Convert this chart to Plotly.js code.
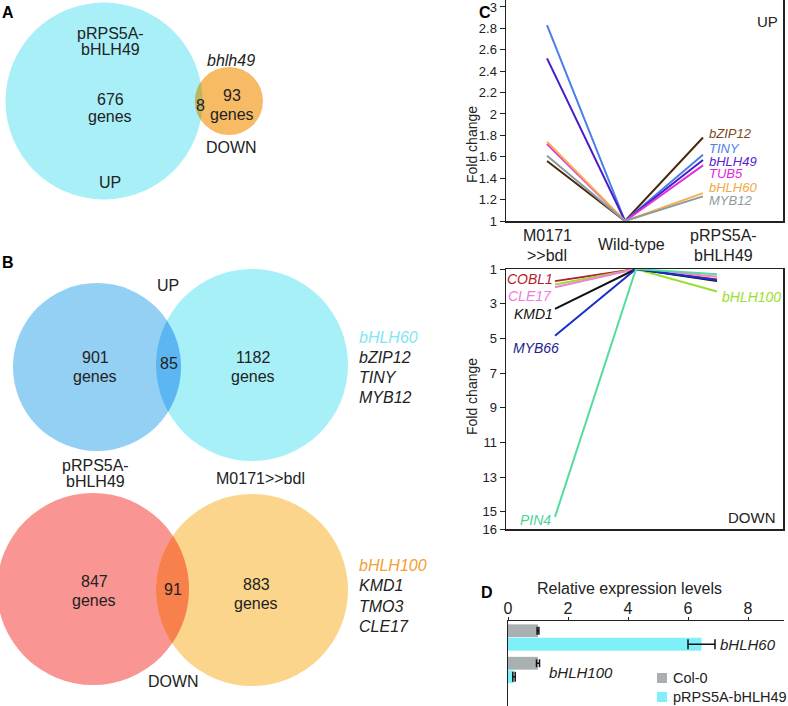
<!DOCTYPE html>
<html>
<head>
<meta charset="utf-8">
<script src="https://cdn.plot.ly/plotly-3.0.1.min.js"></script>
<style>
  html, body { margin: 0; padding: 0; background: #fff; }
  #fig { width: 788px; height: 706px; }
</style>
</head>
<body>
<div id="fig"></div>
<script>
// ---- data ----
const vennACounts = [676, 8, 93];          // pRPS5A-bHLH49 UP only, shared, bhlh49 DOWN only
const vennBUpCounts = [901, 85, 1182];     // pRPS5A-bHLH49, shared, M0171>>bdl
const vennBDownCounts = [847, 91, 883];
const vennBUpGenes = ['bHLH60', 'bZIP12', 'TINY', 'MYB12'];
const vennBDownGenes = ['bHLH100', 'KMD1', 'TMO3', 'CLE17'];

const conditions = ['M0171>>bdl', 'Wild-type', 'pRPS5A-bHLH49'];

const upGenes = ['bZIP12', 'TINY', 'bHLH49', 'TUB5', 'bHLH60', 'MYB12'];
const upM0171 = [1.56, 2.83, 2.52, 1.72, 1.74, 1.61];
const upWildType = [1, 1, 1, 1, 1, 1];
const upPRPS5A = [1.78, 1.62, 1.57, 1.52, 1.26, 1.23];
const upColors = ['#4a2a0c', '#4a7fe8', '#4a1cc8', '#e030e0', '#f4b050', '#8a9aa0'];
const upLabelColors = ['#7b4a1c', '#4f7fe6', '#5b22cc', '#e028d8', '#f2a845', '#8c9ba0'];
const upTicks = [1, 1.2, 1.4, 1.6, 1.8, 2, 2.2, 2.4, 2.6, 2.8, 3];

const downGenes = ['COBL1', 'bHLH100', 'CLE17', 'KMD1', 'MYB66', 'PIN4'];
const downM0171 = [1.7, 1.9, 2.05, 3.3, 4.85, 15.3];
const downWildType = [1, 1, 1, 1, 1, 1];
const downPRPS5A = [1.6, 2.3, 1.45, 1.7, 1.65, 1.3];
const downColors = ['#b51d2a', '#98e030', '#f080d8', '#111111', '#1530c8', '#55dc9c'];
const downLabelColors = ['#b51d2a', '#98e030', '#f07ae0', '#111111', '#1c1c8c', '#4cd496'];
const downTicks = [1, 3, 5, 7, 9, 11, 13, 15, 16];

const qpcrGenes = ['bHLH60', 'bHLH100'];
const col0Levels = [1.0, 1.0];
const col0Err = [0.03, 0.05];
const pRPSLevels = [6.45, 0.2];
const pRPSErr = [0.45, 0.04];
const qpcrTicks = [0, 2, 4, 6, 8];

// ---- helpers ----
const FONT = 'Liberation Sans, Arial, sans-serif';
const W = 788, H = 706;

// text placed in pixel units on the background axis
function label(x, y, text, opts) {
    opts = opts || {};
    return {
        xref: 'x', yref: 'y', x: x, y: y, text: text, showarrow: false,
        xanchor: opts.xanchor || 'center', yanchor: 'middle',
        textangle: opts.angle || 0,
        font: { family: FONT, size: opts.size || 16, color: opts.color || '#222' }
    };
}

function circle(c, color) {
    return {
        type: 'circle', xref: 'x', yref: 'y', layer: 'below',
        x0: c.x - c.r, x1: c.x + c.r, y0: c.y - c.r, y1: c.y + c.r,
        fillcolor: color, line: { width: 0 }
    };
}

// overlap region of two circles, as a polygon along both arcs
function lens(c1, c2, color) {
    const dx = c2.x - c1.x, dy = c2.y - c1.y, d = Math.hypot(dx, dy);
    const t12 = Math.atan2(dy, dx), t21 = t12 + Math.PI;
    const a1 = Math.acos((d * d + c1.r * c1.r - c2.r * c2.r) / (2 * d * c1.r));
    const a2 = Math.acos((d * d + c2.r * c2.r - c1.r * c1.r) / (2 * d * c2.r));
    const pts = [];
    const n = 48;
    for (let i = 0; i <= n; i++) {
        const a = t12 - a1 + 2 * a1 * i / n;
        pts.push([c1.x + c1.r * Math.cos(a), c1.y + c1.r * Math.sin(a)]);
    }
    for (let i = 0; i <= n; i++) {
        const a = t21 - a2 + 2 * a2 * i / n;
        pts.push([c2.x + c2.r * Math.cos(a), c2.y + c2.r * Math.sin(a)]);
    }
    return {
        type: 'path', xref: 'x', yref: 'y', layer: 'below',
        path: 'M' + pts.map(p => p[0].toFixed(2) + ',' + p[1].toFixed(2)).join('L') + 'Z',
        fillcolor: color, line: { width: 0 }
    };
}

// ---- venn geometry (pixels) ----
const aUp = { x: 104, y: 101, r: 98.5 }, aDown = { x: 229, y: 101, r: 34 };
const bUpL = { x: 97, y: 367, r: 84 }, bUpR = { x: 252, y: 365, r: 96 };
const bDnL = { x: 93, y: 589, r: 96 }, bDnR = { x: 252, y: 590, r: 96 };

const shapes = [
    circle(aUp, '#a9eff8'), circle(aDown, '#f7bb66'), lens(aUp, aDown, '#bdb55f'),
    circle(bUpL, '#93d0f3'), circle(bUpR, '#a8f0f8'), lens(bUpL, bUpR, '#5cb6f2'),
    circle(bDnL, '#f99593'), circle(bDnR, '#fbd58c'), lens(bDnL, bDnR, '#f8804c'),
    // legend swatches for panel D
    { type: 'rect', xref: 'x', yref: 'y', x0: 657, x1: 667, y0: 673, y1: 683, fillcolor: '#a8b0b2', line: { width: 0 } },
    { type: 'rect', xref: 'x', yref: 'y', x0: 657, x1: 667, y0: 692, y1: 702, fillcolor: '#80f0f8', line: { width: 0 } }
];

// ---- annotations ----
const ann = [];
// panel letters
ann.push(label(8, 12, '<b>A</b>', { size: 16, color: '#000' }));
ann.push(label(8, 262, '<b>B</b>', { size: 16, color: '#000' }));
ann.push(label(485, 12, '<b>C</b>', { size: 16, color: '#000' }));
ann.push(label(487, 592, '<b>D</b>', { size: 16, color: '#000' }));

// A
ann.push(label(110, 33, 'pRPS5A-'));
ann.push(label(110, 49, 'bHLH49'));
ann.push(label(110, 99, String(vennACounts[0])));
ann.push(label(110, 116, 'genes'));
ann.push(label(110, 182, 'UP'));
ann.push(label(200, 105, String(vennACounts[1])));
ann.push(label(232, 95, String(vennACounts[2])));
ann.push(label(232, 114, 'genes'));
ann.push(label(231, 60, '<i>bhlh49</i>'));
ann.push(label(231, 147, 'DOWN'));

// B up
ann.push(label(168, 285, 'UP'));
ann.push(label(95, 357, String(vennBUpCounts[0])));
ann.push(label(95, 376, 'genes'));
ann.push(label(169, 363, String(vennBUpCounts[1])));
ann.push(label(253, 357, String(vennBUpCounts[2])));
ann.push(label(253, 376, 'genes'));
vennBUpGenes.forEach((g, i) => {
    ann.push(label(357, 337.5 + 20 * i, '<i>' + g + '</i>', { xanchor: 'left', color: i === 0 ? '#7fe8f2' : '#222' }));
});
ann.push(label(95, 465, 'pRPS5A-'));
ann.push(label(95, 481, 'bHLH49'));
ann.push(label(260, 478, 'M0171>>bdl'));

// B down
ann.push(label(94, 581, String(vennBDownCounts[0])));
ann.push(label(94, 600, 'genes'));
ann.push(label(173, 589, String(vennBDownCounts[1])));
ann.push(label(256, 584, String(vennBDownCounts[2])));
ann.push(label(256, 603, 'genes'));
ann.push(label(173, 681, 'DOWN'));
vennBDownGenes.forEach((g, i) => {
    ann.push(label(357, 565 + 20.5 * i, '<i>' + g + '</i>', { xanchor: 'left', color: i === 0 ? '#f3a02e' : '#222' }));
});

// C
ann.push(label(472, 145, 'Fold change', { angle: -90, size: 14 }));
ann.push(label(472, 397, 'Fold change', { angle: -90, size: 14 }));
ann.push(label(767, 21, 'UP', { size: 15 }));
ann.push(label(752, 517, 'DOWN', { size: 15 }));
ann.push(label(547, 235, 'M0171'));
ann.push(label(547, 255, '>>bdl'));
ann.push(label(631, 244, 'Wild-type'));
ann.push(label(723, 235, 'pRPS5A-'));
ann.push(label(723, 255, 'bHLH49'));
const upLabelY = [133.5, 148, 161.5, 173.5, 187, 200.5];
upGenes.forEach((g, i) => {
    ann.push(label(707, upLabelY[i], '<i>' + g + '</i>', { xanchor: 'left', size: 13, color: upLabelColors[i] }));
});
const downLabelY = [279, 296.5, 296, 314, 347.5, 520];
const downLabelX = [555, 720, 554, 555, 561, 553];
downGenes.forEach((g, i) => {
    ann.push(label(downLabelX[i], downLabelY[i], '<i>' + g + '</i>',
        { xanchor: g === 'bHLH100' ? 'left' : 'right', size: 14, color: downLabelColors[i] }));
});

// D
ann.push(label(629, 588, 'Relative expression levels'));
ann.push(label(718, 644, '<i>' + qpcrGenes[0] + '</i>', { xanchor: 'left', size: 15 }));
ann.push(label(547, 672.5, '<i>' + qpcrGenes[1] + '</i>', { xanchor: 'left', size: 15 }));
ann.push(label(671, 678, 'Col-0', { xanchor: 'left', size: 14.5 }));
ann.push(label(671, 697, 'pRPS5A-bHLH49', { xanchor: 'left', size: 14.5 }));

// ---- traces ----
const traces = [];
upGenes.forEach((g, i) => {
    traces.push({
        type: 'scatter', mode: 'lines', name: g, xaxis: 'x2', yaxis: 'y2',
        x: conditions, y: [upM0171[i], upWildType[i], upPRPS5A[i]],
        line: { color: upColors[i], width: 2 }, showlegend: false, hoverinfo: 'skip'
    });
});
downGenes.forEach((g, i) => {
    traces.push({
        type: 'scatter', mode: 'lines', name: g, xaxis: 'x3', yaxis: 'y3',
        x: conditions, y: [downM0171[i], downWildType[i], downPRPS5A[i]],
        line: { color: downColors[i], width: 2 }, showlegend: false, hoverinfo: 'skip'
    });
});
traces.push({
    type: 'bar', orientation: 'h', name: 'Col-0', xaxis: 'x4', yaxis: 'y4',
    y: qpcrGenes, x: col0Levels, marker: { color: '#a8b0b2' },
    error_x: { type: 'data', array: col0Err, color: '#111', thickness: 1.5, width: 4 },
    showlegend: false
});
traces.push({
    type: 'bar', orientation: 'h', name: 'pRPS5A-bHLH49', xaxis: 'x4', yaxis: 'y4',
    y: qpcrGenes, x: pRPSLevels, marker: { color: '#80f0f8' },
    error_x: { type: 'data', array: pRPSErr, color: '#111', thickness: 1.5, width: 5 },
    showlegend: false
});

// ---- layout ----
const frame = { showline: true, mirror: true, linecolor: '#222', linewidth: 1.5, showgrid: false, zeroline: false };
const xd = [506 / W, 783 / W];

const layout = {
    width: W, height: H,
    margin: { l: 0, r: 0, t: 0, b: 0 },
    paper_bgcolor: '#fff', plot_bgcolor: 'rgba(0,0,0,0)',
    font: { family: FONT, color: '#222' },
    showlegend: false,
    barmode: 'group', bargap: 0.17, bargroupgap: 0.05,
    xaxis: { domain: [0, 1], range: [0, W], visible: false, fixedrange: true },
    yaxis: { domain: [0, 1], range: [H, 0], visible: false, fixedrange: true },
    xaxis2: Object.assign({}, frame, {
        domain: xd, anchor: 'y2', type: 'category', categoryarray: conditions,
        range: [-0.526, 3.026], showticklabels: false, ticks: ''
    }),
    yaxis2: Object.assign({}, frame, {
        domain: [1 - 221 / H, 1], anchor: 'x2', range: [1, 3.065],
        tickvals: upTicks, ticks: 'outside', ticklen: 5, tickcolor: '#222',
        ticklabeloverflow: 'allow',
        tickfont: { size: 13, color: '#222' }
    }),
    xaxis3: Object.assign({}, frame, {
        domain: xd, anchor: 'y3', type: 'category', categoryarray: conditions,
        range: [-0.605, 2.815], showticklabels: false, ticks: ''
    }),
    yaxis3: Object.assign({}, frame, {
        domain: [1 - 529 / H, 1 - 269 / H], anchor: 'x3', range: [16, 1],
        tickvals: downTicks, ticks: 'outside', ticklen: 5, tickcolor: '#222',
        ticklabeloverflow: 'allow',
        tickfont: { size: 13, color: '#222' }
    }),
    xaxis4: {
        domain: [508 / W, 784 / W], anchor: 'y4', side: 'top', range: [0, 9.2],
        tickvals: qpcrTicks, ticks: 'outside', ticklen: 3, tickcolor: '#222',
        ticklabelstandoff: -4,
        showline: true, linecolor: '#222', linewidth: 1.5,
        showgrid: false, zeroline: false, tickfont: { size: 16, color: '#222' }
    },
    yaxis4: {
        domain: [0, 1 - 621 / H], anchor: 'x4', type: 'category', categoryarray: qpcrGenes,
        range: [2.108, -0.508], showline: true, linecolor: '#222', linewidth: 1.5,
        showticklabels: false, ticks: '', showgrid: false, zeroline: false
    },
    shapes: shapes,
    annotations: ann
};

Plotly.newPlot('fig', traces, layout, { staticPlot: true, displayModeBar: false });
</script>
</body>
</html>
